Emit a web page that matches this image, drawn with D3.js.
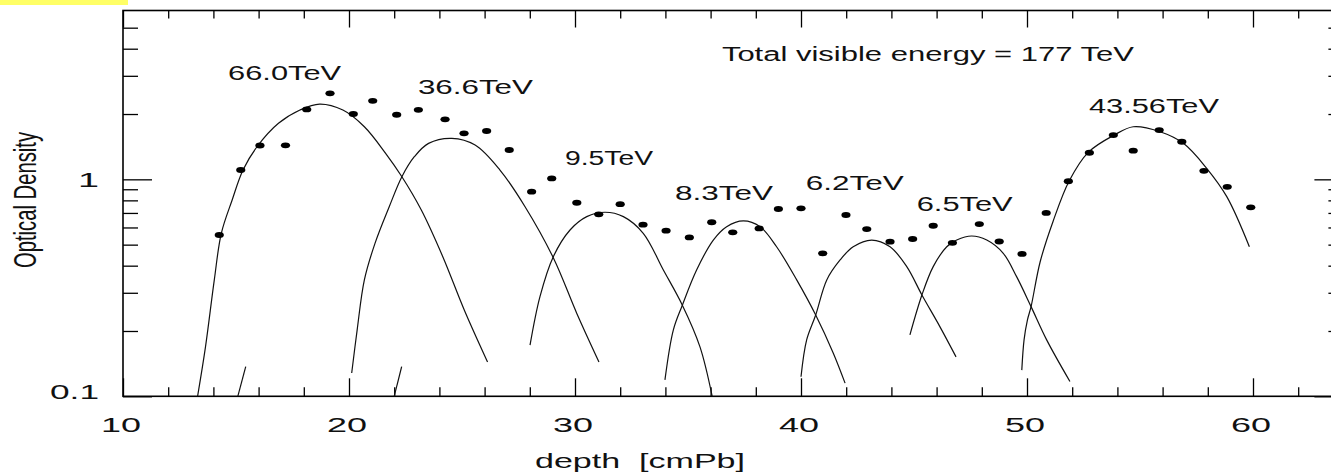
<!DOCTYPE html>
<html><head><meta charset="utf-8">
<script src="https://cdn.jsdelivr.net/npm/d3@7"></script>
<style>
body{margin:0;background:#fff;}
svg{display:block;}
text{font-family:"Liberation Sans",Arial,Helvetica,sans-serif;fill:#111;}
</style>
</head><body>
<svg id="c" width="1331" height="474"></svg>
<script>
// ---------- data ----------
const xMajor = [10,20,30,40,50,60];
const xTickLabels = ["10","20","30","40","50","60"];
const xMinor = [12,14,16,18,22,24,26,28,32,34,36,38,42,44,46,48,52,54,56,58,62];
const yMajor = [0.1,1];
const yTickLabels = ["0.1","1"];
const yMinor = [0.2,0.3,0.4,0.5,0.6,0.7,0.8,0.9,2,3,4,5];

const dotsX = [14.26,15.21,16.06,17.19,18.13,19.16,20.19,21.05,22.11,23.07,24.25,25.09,26.09,27.09,28.08,28.97,30.08,31.05,32.0,33.01,34.03,35.06,36.05,36.98,38.15,39.0,40.0,40.96,41.99,42.91,43.94,44.94,45.85,46.70,47.89,48.77,49.78,50.85,51.83,52.76,53.82,54.70,55.85,56.85,57.83,58.86,59.90];
const dotsY = [0.554,1.104,1.432,1.434,2.10,2.49,2.00,2.30,1.985,2.09,1.89,1.63,1.67,1.365,0.877,1.01,0.78,0.69,0.768,0.618,0.58,0.54,0.634,0.57,0.594,0.73,0.735,0.456,0.685,0.59,0.516,0.531,0.611,0.51,0.622,0.517,0.453,0.70,0.98,1.326,1.60,1.355,1.687,1.49,1.095,0.924,0.743];

const fit66 = [[13.30,0.100],[13.65,0.169],[14.04,0.344],[14.35,0.564],[14.83,0.803],[15.31,1.104],[15.93,1.413],[16.88,1.812],[17.83,2.086],[18.70,2.223],[19.73,2.086],[20.68,1.747],[21.62,1.318],[22.34,1.028],[23.20,0.722],[24.15,0.440],[25.10,0.250],[26.13,0.144]];
const fit36 = [[20.12,0.128],[20.36,0.202],[20.68,0.344],[21.15,0.507],[21.78,0.748],[22.34,1.028],[22.89,1.271],[23.52,1.465],[24.55,1.545],[25.58,1.439],[26.68,1.104],[27.79,0.748],[29.05,0.433],[30.08,0.241],[31.06,0.144]];
const fit9 = [[28.01,0.172],[28.45,0.288],[29.04,0.440],[29.78,0.584],[30.52,0.673],[31.33,0.705],[32.14,0.673],[33.02,0.564],[33.91,0.382],[34.75,0.263],[35.53,0.169],[36.07,0.100]];
const fit8 = [[33.98,0.119],[34.35,0.202],[34.75,0.263],[35.38,0.382],[36.12,0.525],[36.71,0.605],[37.45,0.643],[38.19,0.605],[38.92,0.489],[39.81,0.344],[40.65,0.237],[41.43,0.158],[41.95,0.115]];
const fit62 = [[40.00,0.123],[40.25,0.182],[40.65,0.237],[41.14,0.344],[41.73,0.425],[42.31,0.489],[43.13,0.525],[43.94,0.489],[44.68,0.396],[45.35,0.293],[46.15,0.209],[46.86,0.152]];
const fit65 = [[44.82,0.192],[45.35,0.293],[45.85,0.396],[46.45,0.489],[46.89,0.525],[47.55,0.548],[48.22,0.525],[48.95,0.456],[49.54,0.356],[50.18,0.259],[50.87,0.182],[51.90,0.117]];
const fit43 = [[49.77,0.132],[49.87,0.182],[50.02,0.225],[50.18,0.259],[50.58,0.416],[51.16,0.643],[51.87,0.985],[52.71,1.332],[53.86,1.600],[54.70,1.747],[55.89,1.657],[56.92,1.465],[57.95,1.124],[58.84,0.832],[59.84,0.489]];
const segA = [[15.08,0.100],[15.43,0.137]];
const segB = [[22.00,0.100],[22.33,0.137]];

const peakLabels = ["66.0TeV","36.6TeV","9.5TeV","8.3TeV","6.2TeV","6.5TeV","43.56TeV","Total visible energy = 177 TeV"];
const peakLabelX = [14.65,23.05,29.56,34.42,40.21,45.12,52.74,36.50];
const peakLabelY = [2.869,2.472,1.164,0.807,0.893,0.718,2.014,3.527];

// ---------- layout ----------
const labelWidths = [113,115,88,98,98,96,130,412];
const svg = d3.select("#c");
const x = d3.scaleLinear().domain([10,64]).range([123,1343.4]);
const y = d3.scaleLog().domain([0.1,6]).range([396.3,10.5]);

// yellow tab at top-left
svg.append("rect").attr("x",0).attr("y",0).attr("width",128).attr("height",5).attr("fill","#ffff66");

// frame
svg.append("rect")
  .attr("x",x(10)).attr("y",y(6))
  .attr("width",x(64)-x(10)).attr("height",y(0.1)-y(6))
  .attr("fill","none").attr("stroke","#000").attr("stroke-width",1.6);

function addAxis(gen, tr){
  const g = svg.append("g").attr("transform",tr).call(gen);
  g.select(".domain").remove();
  g.selectAll("line").attr("stroke","#000").attr("stroke-width",1.3);
  return g;
}
const B = `translate(0,${y(0.1)})`, T = `translate(0,${y(6)})`;
const L = `translate(${x(10)},0)`, R = `translate(${x(64)},0)`;

addAxis(d3.axisBottom(x).tickValues(xMinor).tickSize(-9).tickFormat(""), B);
const gxb = addAxis(d3.axisBottom(x).tickValues(xMajor).tickSize(-18).tickFormat((d,i)=>xTickLabels[i]), B);
gxb.selectAll("text")
  .attr("y",35.4).attr("dy",0).attr("dx",-2.5)
  .attr("font-size",20).attr("font-family",null).attr("fill","#111")
  .attr("textLength",40).attr("lengthAdjust","spacingAndGlyphs");

addAxis(d3.axisTop(x).tickValues(xMinor).tickSize(-8).tickFormat(""), T);
addAxis(d3.axisTop(x).tickValues(xMajor).tickSize(-17).tickFormat(""), T);

addAxis(d3.axisLeft(y).tickValues(yMinor).tickSize(-15).tickFormat(""), L);
const gyl = addAxis(d3.axisLeft(y).tickValues(yMajor).tickSize(-29).tickPadding(24).tickFormat((d,i)=>yTickLabels[i]), L);
gyl.selectAll("text")
  .attr("dy", d => d===0.1 ? "0.1em" : "0.35em")
  .attr("font-size",20).attr("font-family",null).attr("fill","#111")
  .attr("textLength", d => d===0.1 ? 49 : 21).attr("lengthAdjust","spacingAndGlyphs");

addAxis(d3.axisRight(y).tickValues(yMinor).tickSize(-15).tickFormat(""), R);
addAxis(d3.axisRight(y).tickValues(yMajor).tickSize(-29).tickFormat(""), R);

// axis titles
svg.append("text")
  .attr("x",(x(10)+x(64))/2).attr("y",468.3)
  .attr("x", 535).attr("font-size",20)
  .attr("textLength",210).attr("lengthAdjust","spacingAndGlyphs")
  .style("white-space","pre")
  .text("depth  [cmPb]");

svg.append("text")
  .attr("transform",`translate(36,200) rotate(-90)`)
  .attr("text-anchor","middle").attr("font-size",32)
  .attr("textLength",136).attr("lengthAdjust","spacingAndGlyphs")
  .text("Optical Density");

// fitted curves
const line = d3.line().x(d=>x(d[0])).y(d=>y(d[1])).curve(d3.curveCatmullRom.alpha(0.5));
[fit66,fit36,fit9,fit8,fit62,fit65,fit43,segA,segB].forEach(c=>{
  svg.append("path").attr("d",line(c))
    .attr("fill","none").attr("stroke","#111").attr("stroke-width",1.2);
});

// data points
svg.append("g").selectAll("ellipse").data(dotsX).join("ellipse")
  .attr("cx",(d)=>x(d)).attr("cy",(d,i)=>y(dotsY[i]))
  .attr("rx",4.6).attr("ry",2.9).attr("fill","#000");

// labels
svg.append("g").selectAll("text").data(peakLabels).join("text")
  .attr("x",(d,i)=>x(peakLabelX[i])).attr("y",(d,i)=>y(peakLabelY[i]))
  .attr("font-size",19.5)
  .attr("textLength",(d,i)=>labelWidths[i]).attr("lengthAdjust","spacingAndGlyphs")
  .style("white-space","pre")
  .text(d=>d);
</script>
</body></html>
